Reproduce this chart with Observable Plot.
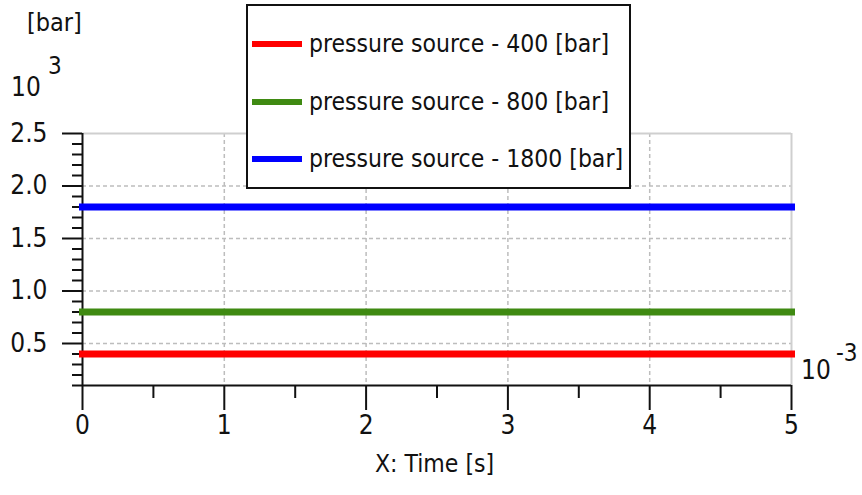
<!DOCTYPE html>
<html>
<head>
<meta charset="utf-8">
<script src="https://cdn.jsdelivr.net/npm/d3@7"></script>
<script src="https://cdn.jsdelivr.net/npm/@observablehq/plot@0.6"></script>
<style>
  html, body { margin: 0; padding: 0; background: #fff; }
  #wrap { position: relative; width: 862px; height: 495px; font-family: "DejaVu Sans Condensed", "DejaVu Sans", sans-serif; font-stretch: condensed; color: #111; }
  .lbl { position: absolute; white-space: nowrap; line-height: 1; }
  #legend { position: absolute; left: 246px; top: 4px; width: 381px; height: 181px; border: 2px solid #111; background: #fff; }
  .row { position: absolute; left: 4px; display: flex; align-items: center; font-size: 24.5px; line-height: 1; }
  .sw { width: 50px; height: 6px; margin-right: 7px; }
</style>
</head>
<body>
<div id="wrap"></div>
<script>
// Time in 10^-3 s, pressure in 10^3 bar
const times = [0, 5];
const p400 = [0.4, 0.4];
const p800 = [0.8, 0.8];
const p1800 = [1.8, 1.8];
const seriesNames = ["pressure source - 400 [bar]", "pressure source - 800 [bar]", "pressure source - 1800 [bar]"];
const seriesColors = ["#ff0000", "#3f8a12", "#0000ff"];
const seriesValues = [p400, p800, p1800];
const xMajor = [0, 1, 2, 3, 4, 5];
const xMinor = [0.5, 1.5, 2.5, 3.5, 4.5];
const yMajor = [0.5, 1.0, 1.5, 2.0, 2.5];
const yMinor = [0.1,0.2,0.3,0.4,0.6,0.7,0.8,0.9,1.1,1.2,1.3,1.4,1.6,1.7,1.8,1.9,2.1,2.2,2.3,2.4];
const xGrid = [1, 2, 3, 4];
const yGrid = [0.5, 1.0, 1.5, 2.0];

const data = [];
seriesValues.forEach((vals, i) => vals.forEach((v, j) => data.push({t: times[j], p: v, s: seriesNames[i]})));

const chart = Plot.plot({
  width: 862,
  height: 495,
  marginLeft: 82,
  marginRight: 71,
  marginTop: 133,
  marginBottom: 110,
  style: {fontFamily: '"DejaVu Sans Condensed", "DejaVu Sans", sans-serif', fontSize: "26px", color: "#111", background: "#fff"},
  x: {domain: [0, 5], label: null},
  y: {domain: [0.1, 2.5], label: null},
  color: {domain: seriesNames, range: seriesColors},
  marks: [
    Plot.ruleY(yGrid, {stroke: "#bdbdbd", strokeWidth: 1.5, strokeDasharray: "4,3", strokeOpacity: 1}),
    Plot.ruleX(xGrid, {stroke: "#bdbdbd", strokeWidth: 1.5, strokeDasharray: "4,3", strokeOpacity: 1}),
    Plot.ruleY([2.5], {stroke: "#cfcfcf", strokeWidth: 2, strokeOpacity: 1}),
    Plot.ruleX([5], {stroke: "#cfcfcf", strokeWidth: 2, strokeOpacity: 1}),
    Plot.axisY({ticks: yMinor, tickSize: 10, text: null, label: null, stroke: "#111", strokeWidth: 2, strokeOpacity: 1}),
    Plot.axisY({ticks: yMajor, tickSize: 20, tickPadding: 15, fontSize: 26, tickFormat: d3.format(".1f"), stroke: "#111", strokeWidth: 2, strokeOpacity: 1, label: null}),
    Plot.axisX({ticks: xMinor, tickSize: 13, text: null, label: null, stroke: "#111", strokeWidth: 2, strokeOpacity: 1}),
    Plot.axisX({ticks: xMajor, tickSize: 25, tickPadding: 5, fontSize: 26, tickFormat: d3.format("d"), stroke: "#111", strokeWidth: 2, strokeOpacity: 1, label: null}),
    Plot.ruleX([0], {stroke: "#111", strokeWidth: 2}),
    Plot.ruleY([0.1], {stroke: "#111", strokeWidth: 2}),
    Plot.line(data, {x: "t", y: "p", z: "s", stroke: "s", strokeWidth: 7, strokeLinecap: "square"})
  ]
});
const wrap = document.getElementById("wrap");
wrap.appendChild(chart);

function addLabel(text, left, top, size) {
  const d = document.createElement("div");
  d.className = "lbl";
  d.textContent = text;
  d.style.left = left + "px";
  d.style.top = top + "px";
  d.style.fontSize = size + "px";
  wrap.appendChild(d);
}
addLabel("[bar]", 27, 10, 25);
addLabel("10", 11, 74, 26);
addLabel("3", 48, 54, 24);
addLabel("10", 801, 357, 26);
addLabel("-3", 836, 341, 24);
addLabel("X: Time [s]", 375, 452, 24.5);

const leg = document.createElement("div");
leg.id = "legend";
seriesNames.forEach((n, i) => {
  const r = document.createElement("div");
  r.className = "row";
  r.style.top = (26 + i * 57.5) + "px";
  const sw = document.createElement("div");
  sw.className = "sw";
  sw.style.background = seriesColors[i];
  const t = document.createElement("span");
  t.textContent = n;
  r.appendChild(sw);
  r.appendChild(t);
  leg.appendChild(r);
});
wrap.appendChild(leg);
</script>
</body>
</html>
